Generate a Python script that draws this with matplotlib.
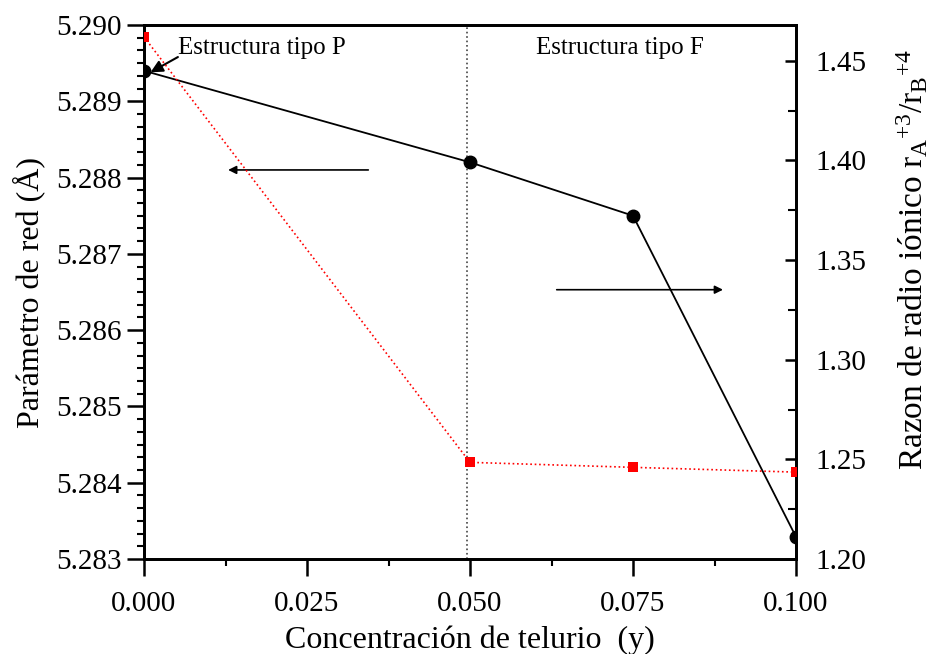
import matplotlib
matplotlib.use("Agg")
import matplotlib.pyplot as plt
from matplotlib.ticker import MultipleLocator, AutoMinorLocator

plt.rcParams["font.family"] = ["Liberation Serif", "DejaVu Serif"]
plt.rcParams["mathtext.fontset"] = "custom"
plt.rcParams["mathtext.rm"] = "Liberation Serif"
plt.rcParams["mathtext.it"] = "Liberation Serif:italic"

# telurio concentration (y)
concentration = [0.0, 0.050, 0.075, 0.100]
# lattice parameter (Å), left axis
lattice_param = [5.28940, 5.28820, 5.28750, 5.28329]
# ionic radius ratio rA+3/rB+4, right axis
radius_ratio = [1.4620, 1.2485, 1.2460, 1.2436]

X_LIMITS = (0.0, 0.100)
LEFT_LIMITS = (5.283, 5.290)
RIGHT_LIMITS = (1.20, 1.468)
PHASE_BOUNDARY = 0.0495

fig = plt.figure(figsize=(9.35, 6.54), dpi=100)
ax = fig.add_axes([144 / 935, 1 - 559 / 654, (796 - 144) / 935, (559 - 25) / 654])
ax2 = ax.twinx()

ax.plot(concentration, lattice_param, color="black", linewidth=1.3,
        marker="o", markersize=9, zorder=3)
ax2.plot(concentration, radius_ratio, color="red", linewidth=1.2, linestyle=":",
         marker="s", markersize=7.5, markeredgewidth=0, zorder=3)

ax.axvline(PHASE_BOUNDARY, color="#444444", linestyle=":", linewidth=1.2)

ax.set_xlim(*X_LIMITS)
ax.set_ylim(*LEFT_LIMITS)
ax2.set_ylim(*RIGHT_LIMITS)

ax.xaxis.set_major_locator(MultipleLocator(0.025))
ax.xaxis.set_minor_locator(AutoMinorLocator(2))
ax.yaxis.set_major_locator(MultipleLocator(0.001))
ax.yaxis.set_minor_locator(AutoMinorLocator(6))
ax.xaxis.set_major_formatter(plt.FormatStrFormatter("%.3f"))
ax.yaxis.set_major_formatter(plt.FormatStrFormatter("%.3f"))
ax2.yaxis.set_major_locator(MultipleLocator(0.05))
ax2.yaxis.set_minor_locator(AutoMinorLocator(2))
ax2.yaxis.set_major_formatter(plt.FormatStrFormatter("%.2f"))

for spine in list(ax.spines.values()) + list(ax2.spines.values()):
    spine.set_linewidth(2)

ax.tick_params(axis="both", which="major", direction="out", length=12, width=1.8,
               labelsize=21, pad=4, top=False, right=False)
ax.tick_params(axis="both", which="minor", direction="out", length=5, width=1.5,
               top=False, right=False)
ax.tick_params(axis="x", which="major", pad=11)
ax2.tick_params(axis="y", which="major", direction="in", length=8, width=1.8,
                labelsize=21, pad=14)
ax2.tick_params(axis="y", which="minor", direction="in", length=6, width=1.5)

ax.set_xlabel("Concentración de telurio  (y)", fontsize=23, labelpad=6)
ax.set_ylabel("Parámetro de red (Å)", fontsize=23, labelpad=8)
ax2.set_ylabel(r"Razon de radio iónico r$_\mathrm{A}$$^{+3}$/r$_\mathrm{B}$$^{+4}$",
               fontsize=24)
ax2.yaxis.set_label_coords(1.152, 0.56)

ax.text(0.0052, 5.28970, "Estructura tipo P", fontsize=18, va="center", ha="left")
ax.annotate("", xy=(0.0010, 5.28938), xytext=(0.0052, 5.28958),
            arrowprops=dict(arrowstyle="-|>", color="black", lw=1.5,
                            mutation_scale=18, shrinkA=0, shrinkB=0))
ax.text(0.0730, 5.28970, "Estructura tipo F", fontsize=18, va="center", ha="center")

# arrows pointing each curve to its axis
ax.annotate("", xy=(0.0129, 5.28810), xytext=(0.0344, 5.28810),
            arrowprops=dict(arrowstyle="-|>", color="black", lw=1.2,
                            mutation_scale=12, shrinkA=0, shrinkB=0))
ax.annotate("", xy=(0.0888, 5.28653), xytext=(0.0633, 5.28653),
            arrowprops=dict(arrowstyle="-|>", color="black", lw=1.2,
                            mutation_scale=12, shrinkA=0, shrinkB=0))

fig.savefig("out.png", dpi=100)
